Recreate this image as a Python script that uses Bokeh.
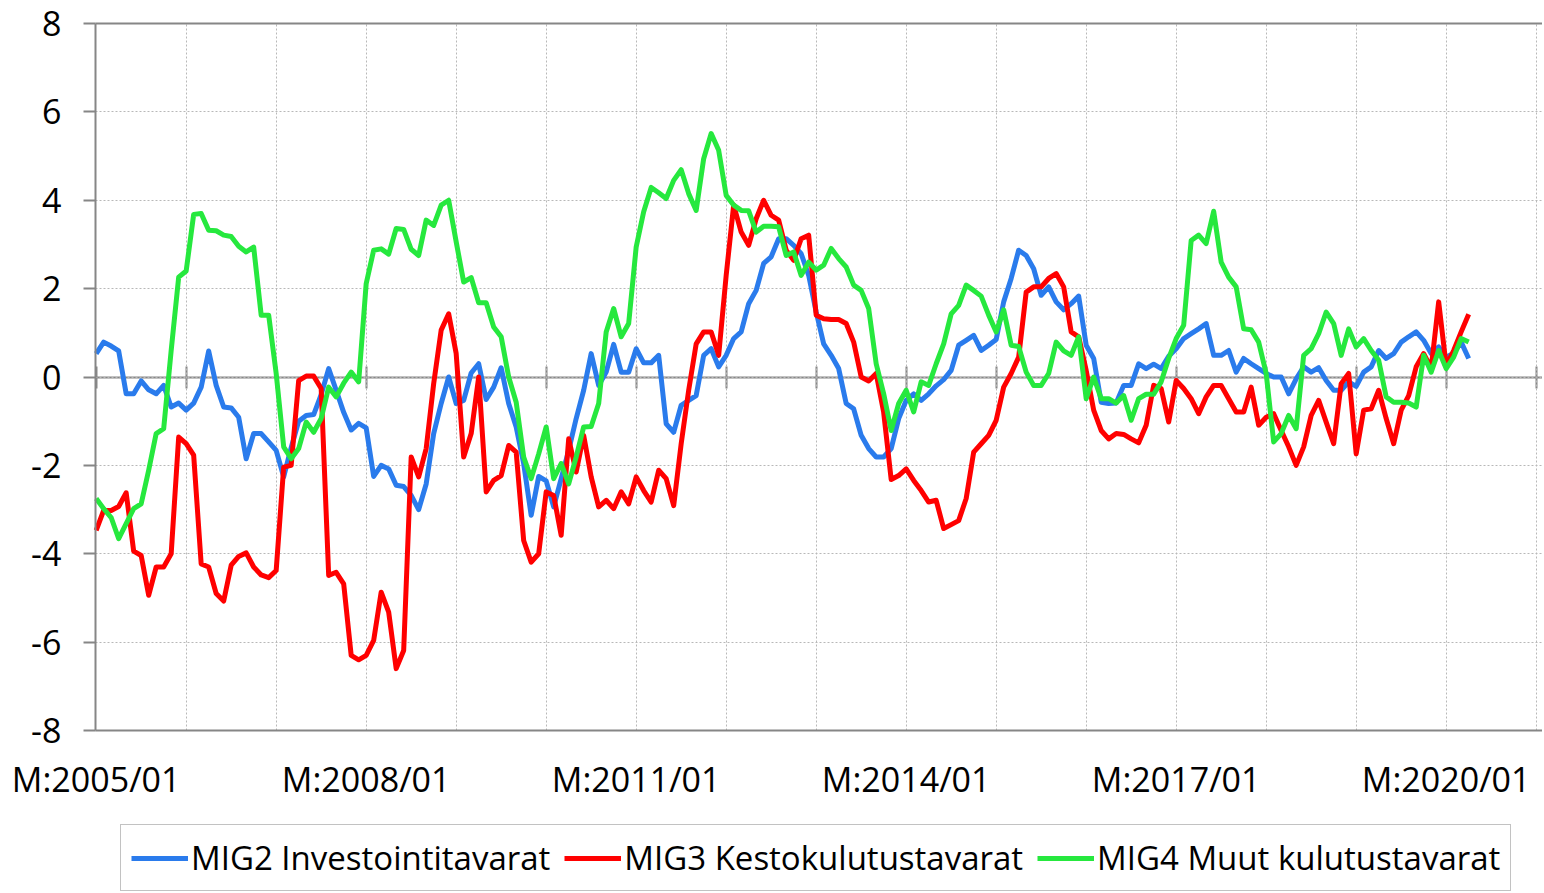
from bokeh.plotting import figure
from bokeh.models import Range1d, FixedTicker, LinearAxis, Grid, Legend, LegendItem, ColumnDataSource
from bokeh.embed import file_html
from bokeh.resources import INLINE

# ---------------- data (monthly, starting 2005/01) ----------------
start_year = 2005
start_month = 1

mig2 = [0.53, 0.79, 0.70, 0.59, -0.38, -0.38, -0.09, -0.29, -0.38, -0.19,
        -0.68, -0.59, -0.75, -0.59, -0.23, 0.59, -0.19, -0.68, -0.70, -0.91,
        -1.85, -1.28, -1.28, -1.47, -1.66, -2.26, -1.60, -1.00, -0.87, -0.85,
        -0.40, 0.19, -0.30, -0.80, -1.20, -1.05, -1.15, -2.25, -2.00, -2.08,
        -2.45, -2.48, -2.68, -3.00, -2.42, -1.28, -0.60, 0.00, -0.60, -0.53,
        0.09, 0.30, -0.51, -0.23, 0.21, -0.60, -1.13, -1.96, -3.13, -2.25,
        -2.35, -2.94, -2.30, -1.66, -0.94, -0.30, 0.53, -0.19, 0.11, 0.74,
        0.11, 0.11, 0.64, 0.32, 0.32, 0.49, -1.06, -1.25, -0.64, -0.53,
        -0.42, 0.49, 0.64, 0.23, 0.49, 0.87, 1.02, 1.66, 1.96, 2.57,
        2.72, 3.13, 3.13, 2.98, 2.79, 2.30, 1.47, 0.75, 0.49, 0.19,
        -0.60, -0.72, -1.32, -1.62, -1.81, -1.81, -1.62, -0.94, -0.53, -0.38,
        -0.53, -0.38, -0.20, -0.06, 0.15, 0.72, 0.83, 0.94, 0.60, 0.72,
        0.85, 1.70, 2.23, 2.87, 2.75, 2.45, 1.85, 2.04, 1.70, 1.52,
        1.66, 1.83, 0.72, 0.42, -0.57, -0.60, -0.59, -0.19, -0.19, 0.30,
        0.19, 0.29, 0.19, 0.47, 0.64, 0.87, 0.98, 1.09, 1.21, 0.49,
        0.49, 0.60, 0.11, 0.42, 0.30, 0.19, 0.08, 0.00, 0.00, -0.38,
        -0.04, 0.23, 0.11, 0.21, -0.08, -0.30, -0.30, -0.11, -0.21, 0.11,
        0.23, 0.60, 0.42, 0.53, 0.79, 0.91, 1.02, 0.83, 0.53, 0.68,
        0.45, 0.54, 0.79, 0.42]

mig3 = [-3.47, -3.02, -3.02, -2.93, -2.62, -3.94, -4.04, -4.94, -4.30, -4.30,
        -4.00, -1.36, -1.51, -1.77, -4.23, -4.30, -4.90, -5.07, -4.26, -4.06,
        -3.98, -4.30, -4.48, -4.54, -4.38, -2.04, -2.00, -0.08, 0.02, 0.02,
        -0.26, -4.49, -4.42, -4.68, -6.30, -6.40, -6.30, -5.96, -4.87, -5.32,
        -6.60, -6.19, -1.81, -2.26, -1.62, -0.15, 1.06, 1.43, 0.53, -1.81,
        -1.28, 0.00, -2.60, -2.34, -2.23, -1.55, -1.70, -3.70, -4.19, -4.00,
        -2.60, -2.68, -3.58, -1.40, -2.15, -1.32, -2.26, -2.94, -2.79, -2.98,
        -2.60, -2.87, -2.26, -2.57, -2.83, -2.11, -2.30, -2.91, -1.51, -0.30,
        0.75, 1.02, 1.02, 0.49, 2.30, 3.89, 3.28, 2.98, 3.58, 4.00,
        3.66, 3.55, 2.87, 2.64, 3.13, 3.21, 1.40, 1.32, 1.30, 1.30,
        1.21, 0.79, 0.00, -0.09, 0.08, -0.80, -2.32, -2.23, -2.08, -2.34,
        -2.57, -2.83, -2.79, -3.43, -3.34, -3.25, -2.75, -1.70, -1.51, -1.32,
        -0.98, -0.23, 0.08, 0.45, 1.92, 2.04, 2.04, 2.23, 2.34, 2.04,
        1.02, 0.91, 0.15, -0.75, -1.21, -1.40, -1.28, -1.30, -1.40, -1.49,
        -1.09, -0.19, -0.26, -1.02, -0.08, -0.26, -0.49, -0.83, -0.45, -0.19,
        -0.19, -0.49, -0.79, -0.79, -0.23, -1.09, -0.91, -0.83, -1.21, -1.58,
        -2.00, -1.58, -0.87, -0.53, -1.02, -1.51, -0.15, 0.08, -1.74, -0.75,
        -0.72, -0.30, -0.94, -1.51, -0.75, -0.42, 0.23, 0.53, 0.20, 1.70,
        0.25, 0.60, 1.02, 1.42]

mig4 = [-2.75, -2.98, -3.18, -3.66, -3.32, -2.98, -2.87, -2.11, -1.28, -1.17,
        0.60, 2.26, 2.40, 3.68, 3.70, 3.32, 3.31, 3.21, 3.18, 2.96,
        2.83, 2.94, 1.40, 1.40, 0.08, -1.58, -1.85, -1.62, -1.02, -1.25,
        -0.94, -0.23, -0.45, -0.14, 0.11, -0.11, 2.11, 2.87, 2.90, 2.78,
        3.36, 3.34, 2.89, 2.75, 3.55, 3.43, 3.89, 4.00, 3.06, 2.15,
        2.25, 1.68, 1.68, 1.13, 0.91, 0.00, -0.57, -1.81, -2.30, -1.74,
        -1.13, -2.30, -1.96, -2.42, -1.81, -1.13, -1.12, -0.60, 1.02, 1.55,
        0.91, 1.21, 2.94, 3.74, 4.29, 4.17, 4.04, 4.45, 4.69, 4.15,
        3.77, 4.94, 5.51, 5.13, 4.11, 3.89, 3.77, 3.76, 3.28, 3.41,
        3.41, 3.40, 2.75, 2.83, 2.30, 2.60, 2.42, 2.53, 2.91, 2.68,
        2.49, 2.08, 1.96, 1.55, 0.30, -0.38, -1.21, -0.60, -0.30, -0.79,
        -0.11, -0.19, 0.30, 0.75, 1.43, 1.62, 2.08, 1.96, 1.83, 1.40,
        1.02, 1.52, 0.72, 0.69, 0.11, -0.19, -0.19, 0.08, 0.79, 0.59,
        0.49, 0.91, -0.49, 0.00, -0.49, -0.49, -0.59, -0.42, -0.98, -0.49,
        -0.39, -0.39, -0.11, 0.42, 0.87, 1.17, 3.09, 3.21, 3.02, 3.75,
        2.60, 2.26, 2.04, 1.09, 1.07, 0.79, 0.08, -1.47, -1.28, -0.87,
        -1.17, 0.49, 0.64, 0.98, 1.47, 1.21, 0.49, 1.09, 0.68, 0.87,
        0.60, 0.38, -0.45, -0.57, -0.57, -0.59, -0.68, 0.49, 0.11, 0.60,
        0.19, 0.45, 0.87, 0.79]

series_names = ["MIG2 Investointitavarat", "MIG3 Kestokulutustavarat", "MIG4 Muut kulutustavarat"]
series_colors = ["#2A7BEC", "#FF0000", "#26E83E"]
tick_labels = ["M:2005/01", "M:2008/01", "M:2011/01", "M:2014/01", "M:2017/01", "M:2020/01"]
y_ticks = [-8, -6, -4, -2, 0, 2, 4, 6, 8]
y_min, y_max = -8, 8
end_label = "2021/01"

# ---------------- style / layout constants ----------------
FONT = "Open Sans"
AXIS_GREY = "#868686"
GRID_GREY = "#b8b8b8"
FIG_W, FIG_H = 1542, 891
AREA_LEFT_PX, AREA_TOP_PX = 95, 23        # where the plot area starts inside the canvas
PX_PER_UNIT = 707 / 16.0
PX_PER_MONTH = 7.5
AREA_X0 = -0.09                           # plot-area left edge, in months

months = list(range(len(mig2)))


def month_index(label):
    ym = label.split(":")[-1]
    y, m = ym.split("/")
    return (int(y) - start_year) * 12 + (int(m) - start_month)


label_pos = [month_index(t) for t in tick_labels]
end_idx = month_index(end_label)
year_ticks = list(range(0, end_idx + 1, 12))

# the frame covers the whole canvas, so axis texts are never clipped
x_start = AREA_X0 - AREA_LEFT_PX / PX_PER_MONTH
x_end = x_start + FIG_W / PX_PER_MONTH
y_top = y_max + AREA_TOP_PX / PX_PER_UNIT
y_bottom = y_top - FIG_H / PX_PER_UNIT
area_x = (AREA_X0, x_end)
area_y = (y_min, y_max)

source = ColumnDataSource(dict(x=months, mig2=mig2, mig3=mig3, mig4=mig4))

p = figure(width=FIG_W, height=FIG_H,
           x_range=Range1d(x_start, x_end), y_range=Range1d(y_bottom, y_top),
           output_backend="svg", toolbar_location=None,
           x_axis_location=None, y_axis_location=None,
           min_border_left=0, min_border_right=0, min_border_top=0, min_border_bottom=0)
p.outline_line_color = None
p.background_fill_color = "white"

has_cross = "cross_bounds" in Grid.properties()

vgrid_ticks = year_ticks[1:]
hgrid_ticks = y_ticks[1:-1]
if has_cross:
    p.xgrid.ticker = FixedTicker(ticks=vgrid_ticks)
    p.xgrid.cross_bounds = area_y
    p.ygrid.ticker = FixedTicker(ticks=hgrid_ticks)
    p.ygrid.cross_bounds = area_x
    for g in (p.xgrid, p.ygrid):
        g.grid_line_color = GRID_GREY
        g.grid_line_dash = "2 2"
        g.grid_line_width = 1
    border = Grid(dimension=1, ticker=FixedTicker(ticks=[y_min, y_max]), cross_bounds=area_x,
                  grid_line_color=AXIS_GREY, grid_line_width=2)
    p.add_layout(border)
else:
    p.xgrid.visible = False
    p.ygrid.visible = False
    p.segment(x0=vgrid_ticks, x1=vgrid_ticks, y0=[y_min] * len(vgrid_ticks), y1=[y_max] * len(vgrid_ticks),
              line_color=GRID_GREY, line_dash="2 2", line_width=1, level="underlay")
    p.segment(x0=[area_x[0]] * len(hgrid_ticks), x1=[area_x[1]] * len(hgrid_ticks), y0=hgrid_ticks, y1=hgrid_ticks,
              line_color=GRID_GREY, line_dash="2 2", line_width=1, level="underlay")
    p.segment(x0=[area_x[0]] * 2, x1=[area_x[1]] * 2, y0=[y_min, y_max], y1=[y_min, y_max],
              line_color=AXIS_GREY, line_width=2, level="underlay")

# value axis
ya = LinearAxis(fixed_location=AREA_X0, ticker=FixedTicker(ticks=y_ticks), bounds=area_y)
ya.major_label_overrides = {t: str(t) for t in y_ticks}
ya.axis_line_color = AXIS_GREY
ya.axis_line_width = 2
ya.major_tick_line_color = AXIS_GREY
ya.major_tick_line_width = 2
ya.major_tick_out = 12
ya.major_tick_in = 0
ya.minor_tick_line_color = None
ya.major_label_text_font = FONT
ya.major_label_text_font_size = "34px"
ya.major_label_text_color = "black"
ya.major_label_standoff = 22
p.add_layout(ya, "left")

# horizontal category axis crossing at zero (ticks only)
zero_axis = LinearAxis(fixed_location=0, ticker=FixedTicker(ticks=year_ticks), bounds=area_x)
zero_axis.axis_line_color = AXIS_GREY
zero_axis.axis_line_width = 2
zero_axis.major_tick_line_color = AXIS_GREY
zero_axis.major_tick_line_width = 2
zero_axis.major_tick_in = 11
zero_axis.major_tick_out = 11
zero_axis.minor_tick_line_color = None
zero_axis.major_label_text_color = None
zero_axis.major_label_text_font_size = "1px"
zero_axis.major_label_standoff = 0
zero_axis.level = "underlay"
p.add_layout(zero_axis, "above")

# category labels under the plot area
label_axis = LinearAxis(fixed_location=y_min, ticker=FixedTicker(ticks=label_pos))
label_axis.major_label_overrides = {pos: lab for pos, lab in zip(label_pos, tick_labels)}
label_axis.axis_line_color = None
label_axis.major_tick_line_color = None
label_axis.minor_tick_line_color = None
label_axis.major_tick_out = 0
label_axis.major_tick_in = 0
label_axis.major_label_text_font = FONT
label_axis.major_label_text_font_size = "34px"
label_axis.major_label_text_color = "black"
label_axis.major_label_standoff = 25
p.add_layout(label_axis, "below")

renderers = []
for key, color in zip(["mig2", "mig3", "mig4"], series_colors):
    r = p.line("x", key, source=source, line_color=color, line_width=5, line_join="round")
    renderers.append(r)

legend = Legend(items=[LegendItem(label=n, renderers=[r]) for n, r in zip(series_names, renderers)],
                orientation="horizontal", location=(120, 0), margin=0,
                label_text_font=FONT, label_text_font_size="33px", label_text_color="black",
                glyph_width=57, glyph_height=30, label_height=44, label_standoff=3, spacing=14, padding=10,
                border_line_color=AXIS_GREY, border_line_width=1.5,
                background_fill_color="white", background_fill_alpha=1.0)
p.add_layout(legend)

open("out.html", "w").write(file_html(p, INLINE))
